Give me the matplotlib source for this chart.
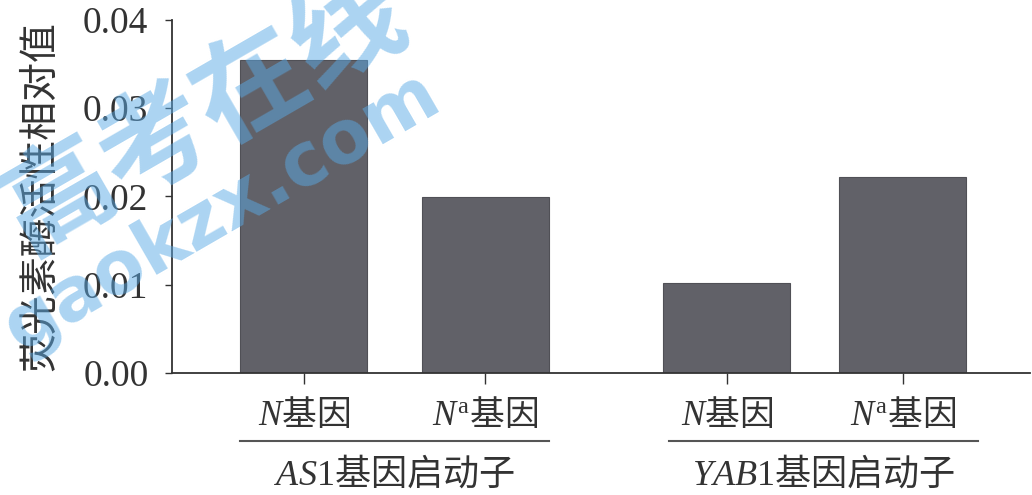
import matplotlib.pyplot as plt

# 数据
genes = ["$N$基因", "$N^{\\mathrm{a}}$基因", "$N$基因", "$N^{\\mathrm{a}}$基因"]
values = [0.0355, 0.0199, 0.0102, 0.0222]
groups = ["$AS1$基因启动子", "$YAB1$基因启动子"]
yticks = [0.00, 0.01, 0.02, 0.03, 0.04]

plt.rcParams["font.family"] = ["Noto Sans CJK SC", "DejaVu Sans"]
plt.rcParams["mathtext.fontset"] = "custom"
plt.rcParams["mathtext.it"] = "Liberation Serif:italic"
plt.rcParams["mathtext.rm"] = "Liberation Serif"

pos = [0, 1, 2.33, 3.3]
fig = plt.figure(figsize=(10.32, 4.95), dpi=100)
ax = fig.add_axes([0.1667, 0.2465, 0.831, 0.7131])

ax.bar(pos, values, width=0.70, color="#616168", edgecolor="#505056", lw=0.8, zorder=2)

ax.set_ylim(0, 0.04)
ax.set_xlim(-0.727, 4.0)
ax.set_yticks(yticks)
ax.set_yticklabels([f"{v:.2f}" for v in yticks], family="Liberation Serif", fontsize=27, color="#333333")
ax.set_xticks(pos)
ax.set_xticklabels(genes, fontsize=25, color="#333333")
ax.tick_params(axis="y", length=5, width=1, pad=12, color="#333333")
ax.tick_params(axis="x", length=8, width=1, pad=9, color="#333333")
for s in ["top", "right"]:
    ax.spines[s].set_visible(False)
for s in ["left", "bottom"]:
    ax.spines[s].set_color("#333333")
    ax.spines[s].set_linewidth(1.3)

ax.set_ylabel("荧光素酶活性相对值", fontsize=28, color="#333333")
ax.yaxis.set_label_coords(-0.13, 0.5)

# 分组标签
tr = ax.get_xaxis_transform()
for i, g in enumerate(groups):
    c = (pos[2 * i] + pos[2 * i + 1]) / 2 + 0.05 * i
    ax.plot([c - 0.85, c + 0.85], [-0.193, -0.193], transform=tr, color="#555555", lw=1.5, clip_on=False)
    ax.text(c, -0.285, g, transform=tr, ha="center", va="center", fontsize=26, color="#333333")

# 水印
fig.text(0.198, 0.77, "高考在线", fontsize=80, fontweight="bold", color="#5aaae6", alpha=0.5,
         rotation=30, ha="center", va="center", zorder=10)
fig.text(0.215, 0.572, "gaokzx.com", fontsize=53, fontweight="bold", color="#5aaae6", alpha=0.5,
         rotation=30, ha="center", va="center", zorder=10, family="DejaVu Sans")

plt.savefig("out.png", dpi=100)
